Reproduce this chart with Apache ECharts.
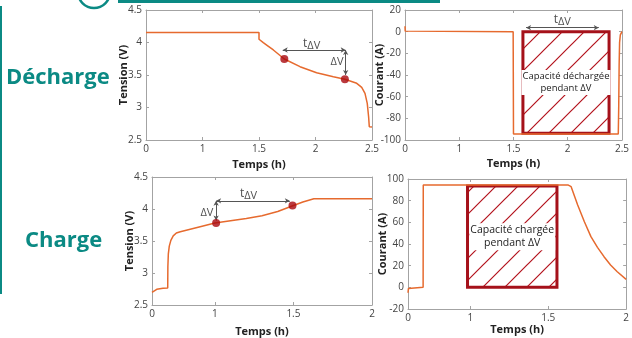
<!DOCTYPE html>
<html>
<head>
<meta charset="utf-8">
<script src="https://cdn.jsdelivr.net/npm/echarts@6/dist/echarts.min.js"></script>
<style>
  html, body { margin: 0; padding: 0; background: #fff; }
  #chart { width: 632px; height: 338px; }
</style>
</head>
<body>
<div id="chart"></div>
<script>
// --- données ---
// décharge : tension
var tensionDechT = [0.5, 1.0, 1.5, 1.5, 1.538, 1.568, 1.627, 1.724, 1.863, 2.01, 2.158, 2.26, 2.365, 2.409, 2.438, 2.458, 2.47, 2.476, 2.5];
var tensionDechV = [4.155, 4.155, 4.155, 4.05, 3.997, 3.96, 3.885, 3.746, 3.628, 3.535, 3.474, 3.434, 3.372, 3.31, 3.218, 3.064, 2.858, 2.705, 2.7];
var pointsDechT = [1.724, 2.26];
var pointsDechV = [3.746, 3.434];
// décharge : courant
var courantDechT = [0.5, 0.502, 0.505, 1.497, 1.5, 2.466, 2.47, 2.474, 2.478, 2.485, 2.5];
var courantDechA = [5, 0.5, 0, 0, -94.5, -94.5, -70, -30, -10, -3, 0];
// charge : tension
var tensionChT = [0.6, 0.63, 0.67, 0.7, 0.701, 0.704, 0.71, 0.72, 0.735, 0.755, 0.78, 0.9, 1.0, 1.1, 1.2, 1.3, 1.4, 1.5, 1.56, 1.63, 2.0];
var tensionChV = [2.697, 2.745, 2.76, 2.765, 3.1, 3.3, 3.42, 3.51, 3.58, 3.625, 3.645, 3.72, 3.78, 3.815, 3.85, 3.895, 3.96, 4.055, 4.11, 4.16, 4.16];
var pointsChT = [1.008, 1.494];
var pointsChV = [3.78, 4.055];
// charge : courant
var courantChT = [0.6, 0.603, 0.606, 0.697, 0.698, 1.626, 1.647, 1.689, 1.732, 1.774, 1.816, 1.858, 1.9, 1.943, 2.0];
var courantChA = [-5, -1, 0, 0, 94.5, 94.5, 92.9, 76, 60.6, 46.8, 36.9, 28.3, 20.6, 14.4, 7.4];

// graduations
var ticksHautVal = [0.5, 1, 1.5, 2, 2.5];
var ticksHautTxt = ['0', '1', '1.5', '2', '2.5'];
var ticksBasVal = [0.6, 1, 1.5, 2];
var ticksBasTxt = ['0', '1', '1.5', '2'];

var FONT = 'Open Sans';
var TEAL = '#0b8a84';
var ORANGE = '#e66a2e';
var DARKRED = '#a5111a';
var DOT = '#a9080e';
var AX = '#a3a3a3';

function zip(a, b) {
    return a.map(function (v, i) { return [v, b[i]]; });
}

// motif hachuré
function hatch() {
    var s = 22;
    var c = document.createElement('canvas');
    c.width = s; c.height = s;
    var g = c.getContext('2d');
    g.strokeStyle = '#b3121c';
    g.lineWidth = 1.2;
    g.beginPath();
    g.moveTo(-2, s + 2); g.lineTo(s + 2, -2);
    g.moveTo(-2, 2); g.lineTo(2, -2);
    g.moveTo(s - 2, s + 2); g.lineTo(s + 2, s - 2);
    g.stroke();
    return c;
}
var hatchImg = hatch();

var grids = [
    {left: 146, top: 10, width: 226, height: 130},
    {left: 405, top: 10, width: 224, height: 130},
    {left: 152, top: 177, width: 220, height: 129},
    {left: 408, top: 179, width: 221, height: 130}
];

function lbl(ticks, txt) {
    return function (v) {
        for (var i = 0; i < ticks.length; i++) {
            if (Math.abs(ticks[i] - v) < 1e-6) return txt[i];
        }
        return '';
    };
}

var xAxes = [], yAxes = [];
function addX(gi, min, max, ticks, txt, gap) {
    var line = {show: true, onZero: false, lineStyle: {color: AX}};
    var tick = {show: true, inside: true, length: 3, customValues: ticks, lineStyle: {color: AX}};
    xAxes.push({
        type: 'value', gridIndex: gi, min: min, max: max,
        name: 'Temps (h)', nameLocation: 'middle', nameGap: gap,
        nameTextStyle: {fontFamily: FONT, fontWeight: 'bold', fontSize: 11, color: '#222'},
        axisLine: line, axisTick: tick, splitLine: {show: false},
        axisLabel: {customValues: ticks, formatter: lbl(ticks, txt), fontFamily: FONT, fontSize: 10, color: '#444', margin: 4}
    });
    xAxes.push({
        type: 'value', gridIndex: gi, min: min, max: max, position: 'top',
        axisLine: line, axisTick: tick, splitLine: {show: false}, axisLabel: {show: false}
    });
}
function addY(gi, min, max, step, name, gap) {
    var line = {show: true, onZero: false, lineStyle: {color: AX}};
    var tick = {show: true, inside: true, length: 3, lineStyle: {color: AX}};
    yAxes.push({
        type: 'value', gridIndex: gi, min: min, max: max, interval: step,
        name: name, nameLocation: 'middle', nameGap: gap, nameMoveOverlap: false,
        nameTextStyle: {fontFamily: FONT, fontWeight: 'bold', fontSize: 11, color: '#222'},
        axisLine: line, axisTick: tick, splitLine: {show: false},
        axisLabel: {fontFamily: FONT, fontSize: 10, color: '#444', margin: 4}
    });
    yAxes.push({
        type: 'value', gridIndex: gi, min: min, max: max, interval: step, position: 'right',
        axisLine: line, axisTick: tick, splitLine: {show: false}, axisLabel: {show: false}
    });
}

addX(0, 0.5, 2.5, ticksHautVal, ticksHautTxt, 19);
addX(1, 0.5, 2.5, ticksHautVal, ticksHautTxt, 18);
addX(2, 0.6, 2, ticksBasVal, ticksBasTxt, 21);
addX(3, 0.6, 2, ticksBasVal, ticksBasTxt, 14);
addY(0, 2.5, 4.5, 0.5, 'Tension (V)', 17);
addY(1, -100, 20, 20, 'Courant (A)', 20);
addY(2, 2.5, 4.5, 0.5, 'Tension (V)', 17);
addY(3, -20, 100, 20, 'Courant (A)', 20);

var rich = {
    t: {fontFamily: FONT, fontSize: 12, color: '#222'},
    s: {fontFamily: FONT, fontSize: 11, color: '#222', padding: [5, 0, 0, 0], verticalAlign: 'bottom'},
    d: {fontFamily: FONT, fontSize: 11, color: '#222'}
};

function courbe(gi, t, v, lines) {
    return {
        type: 'line', xAxisIndex: gi * 2, yAxisIndex: gi * 2,
        data: zip(t, v), showSymbol: false, z: 3,
        lineStyle: {color: ORANGE, width: 1.5},
        markLine: lines ? {
            silent: true, symbol: ['arrow', 'arrow'], symbolSize: [4, 5],
            lineStyle: {color: '#555', width: 1, type: 'solid'},
            label: {show: false},
            data: lines.map(function (l) { return [{coord: l[0]}, {coord: l[1]}]; })
        } : undefined
    };
}
function points(gi, t, v) {
    return {
        type: 'scatter', xAxisIndex: gi * 2, yAxisIndex: gi * 2, z: 5,
        symbolSize: 8, itemStyle: {color: DOT}, data: zip(t, v)
    };
}
function textes(gi, items) {
    return {
        type: 'scatter', xAxisIndex: gi * 2, yAxisIndex: gi * 2, z: 6,
        symbolSize: 0, silent: true,
        label: {show: true, position: 'inside', formatter: '{b}', rich: rich},
        data: items.map(function (it) { return {name: it[2], value: [it[0], it[1]]}; })
    };
}
function zone(x1, y1, x2, y2, txt, fs) {
    return {
        silent: true,
        itemStyle: {color: {image: hatchImg, repeat: 'repeat'}, borderColor: DARKRED, borderWidth: 3},
        label: {show: true, position: 'inside', formatter: txt, backgroundColor: '#fff',
            fontFamily: FONT, fontSize: fs, lineHeight: fs + 2, color: '#222', padding: [1, 1]},
        data: [[{coord: [x1, y1]}, {coord: [x2, y2]}]]
    };
}

var s1 = courbe(0, tensionDechT, tensionDechV, [
    [[1.71, 3.885], [2.267, 3.885]],
    [[2.267, 3.885], [2.267, 3.5]]
]);
var s2 = courbe(1, courantDechT, courantDechA, [
    [[1.616, 3.7], [2.286, 3.7]]
]);
s2.markArea = zone(1.587, 0, 2.381, -93.8, 'Capacité déchargée\npendant ΔV', 9.5);
var s3 = courbe(2, tensionChT, tensionChV, [
    [[1.008, 4.128], [1.477, 4.128]],
    [[1.008, 4.128], [1.008, 3.82]]
]);
var s4 = courbe(3, courantChT, courantChA, null);
s4.markArea = zone(0.982, 93.5, 1.556, 0, 'Capacité chargée\npendant ΔV', 10.5);

var option = {
    animation: false,
    grid: grids,
    xAxis: xAxes,
    yAxis: yAxes,
    series: [
        s1, s2, s3, s4,
        points(0, pointsDechT, pointsDechV),
        points(2, pointsChT, pointsChV),
        textes(0, [[1.966, 3.99, '{t|t}{s|ΔV}'], [2.19, 3.705, '{d|ΔV}']]),
        textes(1, [[1.95, 11, '{t|t}{s|ΔV}']]),
        textes(2, [[1.214, 4.247, '{t|t}{s|ΔV}'], [0.949, 3.937, '{d|ΔV}']])
    ],
    graphic: [
        {type: 'text', left: 6, top: 67, style: {text: 'Décharge', fill: TEAL, font: 'bold 22px "Open Sans"'}},
        {type: 'text', left: 25, top: 230, style: {text: 'Charge', fill: TEAL, font: 'bold 22px "Open Sans"'}},
        {type: 'line', shape: {x1: 1, y1: 6, x2: 1, y2: 294}, style: {stroke: TEAL, lineWidth: 2}},
        {type: 'line', shape: {x1: 118, y1: 1.5, x2: 440, y2: 1.5}, style: {stroke: TEAL, lineWidth: 3}},
        {type: 'circle', shape: {cx: 94, cy: -8, r: 16}, style: {stroke: TEAL, fill: 'none', lineWidth: 2.5}}
    ]
};

var chart = echarts.init(document.getElementById('chart'));
chart.setOption(option);
</script>
</body>
</html>
